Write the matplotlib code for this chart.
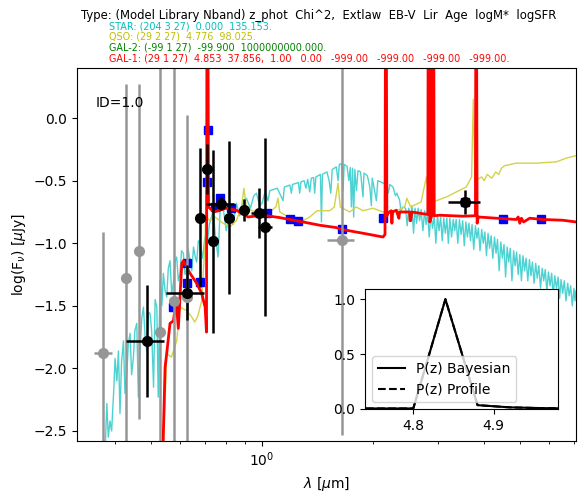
import matplotlib
matplotlib.use("Agg")
import matplotlib.pyplot as plt

# --- GAL-1 best fit spectrum (lambda in micron, log F_nu in uJy)
gal_wave = [0.538, 0.546, 0.552, 0.563, 0.575, 0.585, 0.593, 0.606, 0.612, 0.638,
            0.665, 0.686, 0.701, 0.707, 0.709, 0.713, 0.716, 0.74, 0.768, 0.80, 0.852, 0.916,
            1.006, 1.117, 1.292, 1.434, 1.591, 1.648, 1.878, 2.128, 2.155, 2.162,
            2.172, 2.18, 2.195, 2.24, 2.25, 2.26, 2.313, 2.35, 2.36, 2.386, 2.513,
            2.52, 2.53, 2.55, 2.675, 2.815, 2.822, 2.84, 2.85, 2.885, 2.895, 2.92,
            2.93, 3.03, 3.505, 3.79, 3.80, 3.815, 3.83, 3.86, 4.32, 4.89, 4.95,
            5.0, 5.05, 5.12, 5.32, 5.77, 6.54, 7.11]
gal_flux = [-2.70, -1.99, -1.87, -1.64, -1.62, -1.46, -1.68, -1.16, -1.14, -1.24,
            -1.32, -1.40, -1.51, -1.71, 1.0, 1.0, -0.71, -0.75, -0.736, -0.72, -0.736, -0.79,
            -0.776, -0.795, -0.83, -0.856, -0.875, -0.89, -0.92, -0.95, -0.93, 1.0,
            1.0, -0.78, -0.76, -0.74, -0.84, -0.75, -0.736, -0.80, -0.75, -0.75, -0.75,
            -0.82, -0.82, -0.75, -0.76, -0.77, 1.0, 1.0, -0.83, -0.78, 1.0, 1.0,
            -0.78, -0.776, -0.784, -0.78, 1.0, 1.0, -0.84, -0.79, -0.80, -0.81, -0.79,
            -0.84, -0.80, -0.83, -0.80, -0.81, -0.816, -0.83]

# --- QSO spectrum
qso_wave = [0.540, 0.5515, 0.568, 0.587, 0.599, 0.626, 0.645, 0.657, 0.670, 0.686,
            0.701, 0.705, 0.712, 0.723, 0.745, 0.784, 0.818, 0.852, 0.88, 0.893,
            0.907, 0.94, 0.985, 1.04, 1.09, 1.105, 1.117, 1.18, 1.292, 1.347, 1.41,
            1.526, 1.57, 1.607, 1.63, 1.729, 1.80, 1.878, 2.0, 2.128, 2.313, 2.437,
            2.47, 2.53, 2.70, 2.79, 2.84, 2.969, 3.161, 3.365, 3.58, 3.70, 3.74,
            3.78, 3.94, 4.0, 4.08, 4.2, 4.3, 4.38, 4.46, 4.55, 4.89, 5.53, 6.27,
            6.68, 7.11]
qso_flux = [-2.70, -1.88, -1.91, -1.78, -1.51, -1.54, -1.59, -1.63, -1.58, -1.46,
            -0.98, -0.58, -0.80, -0.82, -0.79, -0.84, -0.87, -0.82, -0.71, -0.56,
            -0.71, -0.74, -0.76, -0.76, -0.71, -0.64, -0.75, -0.79, -0.82, -0.79, -0.74,
            -0.74, -0.71, -0.52, -0.71, -0.75, -0.71, -0.74, -0.72, -0.75, -0.74, -0.71,
            -0.64, -0.71, -0.67, -0.47, -0.67, -0.66, -0.63, -0.59, -0.55, -0.47, 0.15,
            -0.50, -0.47, -0.50, -0.45, -0.48, -0.43, -0.45, -0.40, -0.38, -0.36, -0.36, -0.35,
            -0.32, -0.30]

# --- STAR spectrum
star_wave = [0.375, 0.3795, 0.383, 0.387, 0.391, 0.396, 0.3995, 0.404, 0.408, 0.412,
             0.416, 0.421, 0.425, 0.430, 0.434, 0.4387, 0.443, 0.448, 0.452, 0.4575,
             0.462, 0.467, 0.472, 0.477, 0.482, 0.487, 0.492, 0.497, 0.502, 0.508,
             0.513, 0.5185, 0.523, 0.529, 0.535, 0.540, 0.546, 0.5515, 0.557, 0.563,
             0.569, 0.575, 0.581, 0.587, 0.593, 0.599, 0.605, 0.612, 0.618, 0.625,
             0.631, 0.638, 0.645, 0.652, 0.658, 0.665, 0.672, 0.679, 0.69, 0.70,
             0.707, 0.72, 0.737, 0.748, 0.760, 0.770, 0.784, 0.80, 0.818, 0.835,
             0.852, 0.87, 0.89, 0.907, 0.93, 0.95, 0.966, 0.985, 1.0,
             1.02, 1.038, 1.05, 1.10, 1.14, 1.15, 1.19, 1.201, 1.21, 1.255,
             1.265, 1.275, 1.30, 1.315, 1.33, 1.347, 1.36, 1.38, 1.389, 1.40,
             1.44, 1.449, 1.458, 1.50, 1.52, 1.536, 1.55, 1.59, 1.607, 1.62,
             1.641, 1.658, 1.67, 1.70, 1.72, 1.735, 1.747, 1.76, 1.772, 1.785,
             1.803, 1.82, 1.85, 1.878, 1.89, 1.93, 1.96, 1.979, 1.99, 2.042,
             2.06, 2.10, 2.128, 2.174, 2.20, 2.22, 2.265, 2.30, 2.32, 2.361,
             2.38, 2.41,
             2.45, 2.475, 2.50, 2.525, 2.55, 2.575, 2.60, 2.625, 2.65, 2.675,
             2.70, 2.73, 2.76, 2.785, 2.81, 2.84, 2.87, 2.90, 2.93, 2.96,
             2.99, 3.02, 3.05, 3.08, 3.11, 3.14, 3.17, 3.20, 3.23, 3.265,
             3.30, 3.33, 3.36, 3.395, 3.43, 3.465, 3.50, 3.535, 3.57, 3.605,
             3.64, 3.675, 3.71, 3.75, 3.79, 3.825, 3.86, 3.90, 3.94, 3.98,
             4.02, 4.06, 4.10, 4.14, 4.18, 4.225, 4.27, 4.31, 4.35, 4.395,
             4.44, 4.485, 4.53, 4.575, 4.62, 4.665, 4.71, 4.76, 4.81, 4.855,
             4.90, 4.95, 5.00, 5.05, 5.10, 5.15, 5.20, 5.255, 5.31, 5.36,
             5.41, 5.465, 5.52, 5.575, 5.63, 5.69, 5.75, 5.805, 5.86, 5.92,
             5.98, 6.04, 6.10, 6.16, 6.22, 6.285, 6.35, 6.41, 6.47, 6.535,
             6.60, 6.67, 6.74, 6.805, 6.87, 6.94, 7.01, 7.055, 7.10]
star_flux = [-2.70, -2.28, -2.55, -2.42, -2.50, -2.19, -1.92, -2.10, -1.86, -2.36,
             -1.95, -1.78, -2.20, -2.04, -1.80, -1.72, -2.05, -1.91, -1.70, -1.64,
             -2.23, -1.86, -1.60, -1.51, -1.75, -1.86, -1.55, -1.56, -1.70, -2.15,
             -1.45, -1.51, -2.23, -1.30, -1.50, -1.24, -1.38, -1.43, -1.20, -1.14,
             -1.40, -1.32, -1.15, -1.11, -1.30, -1.24, -1.06, -1.08, -1.25, -1.20,
             -1.05, -1.14, -1.22, -1.03, -1.10, -1.15, -0.98, -1.00, -1.12, -0.95,
             -1.05, -0.85, -0.74, -0.95, -1.11, -0.73, -0.71, -0.90, -0.74, -0.85,
             -0.68, -0.78, -0.66, -0.64, -0.72, -0.62, -0.60, -0.70, -0.68,
             -0.585, -0.66, -0.58, -0.56, -0.66, -0.55, -0.535, -0.60, -0.53, -0.515,
             -0.60, -0.51, -0.50, -0.56, -0.49, -0.59, -0.48, -0.475, -0.60, -0.47,
             -0.45, -0.83, -0.45, -0.43, -0.50, -0.60, -0.41, -0.39, -0.50, -0.37,
             -0.363, -0.58, -0.37, -0.385, -0.50, -0.395, -0.71, -0.40, -0.79, -0.41,
             -0.58, -0.42, -0.43, -0.63, -0.44, -0.46, -0.55, -0.70, -0.48, -0.66,
             -0.50, -0.51, -0.52, -0.52, -0.60, -0.53, -0.55, -0.62, -0.60, -0.656,
             -0.74, -0.71,
             -0.72, -0.86, -0.72, -0.80, -0.70, -0.92, -0.72, -0.84, -0.72, -0.82,
             -0.73, -0.90, -0.74, -0.85, -0.75, -0.95, -0.77, -0.88, -0.78, -1.00,
             -0.78, -0.90, -0.79, -0.98, -0.80, -0.92, -0.80, -1.00, -0.80, -0.95,
             -0.81, -0.90, -0.81, -1.00, -0.81, -0.93, -0.82, -1.02, -0.83, -0.95,
             -0.84, -0.98, -0.85, -1.05, -0.86, -0.96, -0.88, -1.06, -0.89, -1.00,
             -0.91, -1.10, -0.92, -1.04, -0.94, -1.12, -0.95, -1.08, -0.97, -1.22,
             -0.99, -1.12, -1.01, -1.27, -1.03, -1.15, -1.04, -1.30, -1.06, -1.18,
             -1.07, -1.25, -1.09, -1.30, -1.10, -1.22, -1.12, -1.30, -1.13, -1.26,
             -1.15, -1.32, -1.16, -1.28, -1.18, -1.36, -1.20, -1.30, -1.21, -1.38,
             -1.23, -1.34, -1.24, -1.42, -1.26, -1.36, -1.27, -1.44, -1.29, -1.40,
             -1.30, -1.46, -1.32, -1.42, -1.34, -1.50, -1.36, -1.46, -1.38]

# --- model fluxes in the filters
model_wave = [0.575, 0.626, 0.626, 0.679, 0.710, 0.714, 0.745, 0.771, 0.826, 1.03,
              1.19, 1.25, 1.65, 2.13, 3.54, 4.50, 5.71]
model_flux = [-1.51, -1.16, -1.32, -1.31, -0.51, -0.096, -0.71, -0.64, -0.72, -0.76,
              -0.81, -0.82, -0.89, -0.80, -0.67, -0.81, -0.81]

# --- observed detections
obs_wave = [0.487, 0.625, 0.710, 0.679, 0.737, 0.773, 0.814, 0.894, 0.981, 1.019, 3.54]
obs_flux = [-1.78, -1.394, -0.403, -0.797, -0.984, -0.683, -0.795, -0.736, -0.755, -0.869, -0.67]
obs_err = [0.45, 0.22, 0.20, 0.555, 0.73, 0.05, 0.61, 0.09, 0.2, 0.71, 0.095]
obs_xlo = [0.059, 0.076, 0.0, 0.0, 0.0, 0.07, 0.0, 0.0, 0.045, 0.045, 0.35]
obs_xhi = [0.056, 0.073, 0.0, 0.0, 0.0, 0.067, 0.0, 0.0, 0.047, 0.045, 0.37]

# --- low S/N points
low_wave = [0.371, 0.427, 0.463, 0.529, 0.577, 0.626, 1.648]
low_flux = [-1.88, -1.274, -1.064, -1.712, -1.464, -1.43, -0.976]
low_err = [0.97, 1.55, 1.34, 2.3, 2.0, 1.454, 1.56]
low_xlo = [0.021, 0.0, 0.0, 0.0, 0.0, 0.0, 0.148]
low_xhi = [0.020, 0.0, 0.0, 0.0, 0.0, 0.0, 0.127]

# --- P(z)
pz_z = [4.70, 4.76, 4.80, 4.84, 4.88, 4.92, 4.96, 5.00]
pz_bay = [0.005, 0.005, 0.005, 1.0, 0.035, 0.015, 0.008, 0.005]
pz_prof = [0.005, 0.005, 0.005, 1.0, 0.035, 0.015, 0.008, 0.005]

title = "Type: (Model Library Nband) z_phot  Chi^2,  Extlaw  EB-V  Lir  Age  logM*  logSFR"
info_lines = ["STAR: (204 3 27)  0.000  135.153.",
              "QSO: (29 2 27)  4.776  98.025.",
              "GAL-2: (-99 1 27)  -99.900  1000000000.000.",
              "GAL-1: (29 1 27)  4.853  37.856,  1.00   0.00   -999.00   -999.00   -999.00   -999.00."]
info_colors = ["c", "y", "g", "r"]

fig = plt.figure(figsize=(5.86, 5.04), dpi=100)
ax = fig.add_axes([0.1314, 0.125, 0.8515, 0.740])

ax.plot(star_wave, star_flux, color="#4dd2d2", lw=1)
ax.plot(qso_wave, qso_flux, color="#d2d24d", lw=1)
ax.plot(model_wave, model_flux, "s", color="blue", ms=6)
ax.plot(gal_wave, gal_flux, color="red", lw=2)
ax.errorbar(low_wave, low_flux, yerr=low_err, xerr=[low_xlo, low_xhi], fmt="o",
            color="#969696", ms=7, lw=1.8)
ax.errorbar(obs_wave, obs_flux, yerr=obs_err, xerr=[obs_xlo, obs_xhi], fmt="o",
            color="black", ms=7, lw=1.8)

ax.set_xscale("log")
ax.set_xlim(0.315, 7.1)
ax.set_ylim(-2.58, 0.40)
ax.set_xlabel(r"$\lambda$ [$\mu$m]")
ax.set_ylabel(r"log(F$_{\nu}$) [$\mu$Jy]")
ax.text(0.038, 0.895, "ID=1.0", transform=ax.transAxes, fontsize=10)

fig.text(81 / 586, 1 - 19.5 / 504, title, fontsize=8.4)
for i, (line, col) in enumerate(zip(info_lines, info_colors)):
    fig.text(109 / 586, 1 - (29.3 + 10.7 * i) / 504, line, fontsize=6.9, color=col)

ins = fig.add_axes([0.623, 0.1885, 0.329, 0.2375])
ins.plot(pz_z, pz_bay, "k-", label="P(z) Bayesian")
ins.plot(pz_z, pz_prof, "k--", label="P(z) Profile")
ins.set_xlim(4.74, 4.98)
ins.set_ylim(0, 1.09)
ins.set_xticks([4.8, 4.9])
ins.legend(loc="lower left")

fig.savefig("out.png")
